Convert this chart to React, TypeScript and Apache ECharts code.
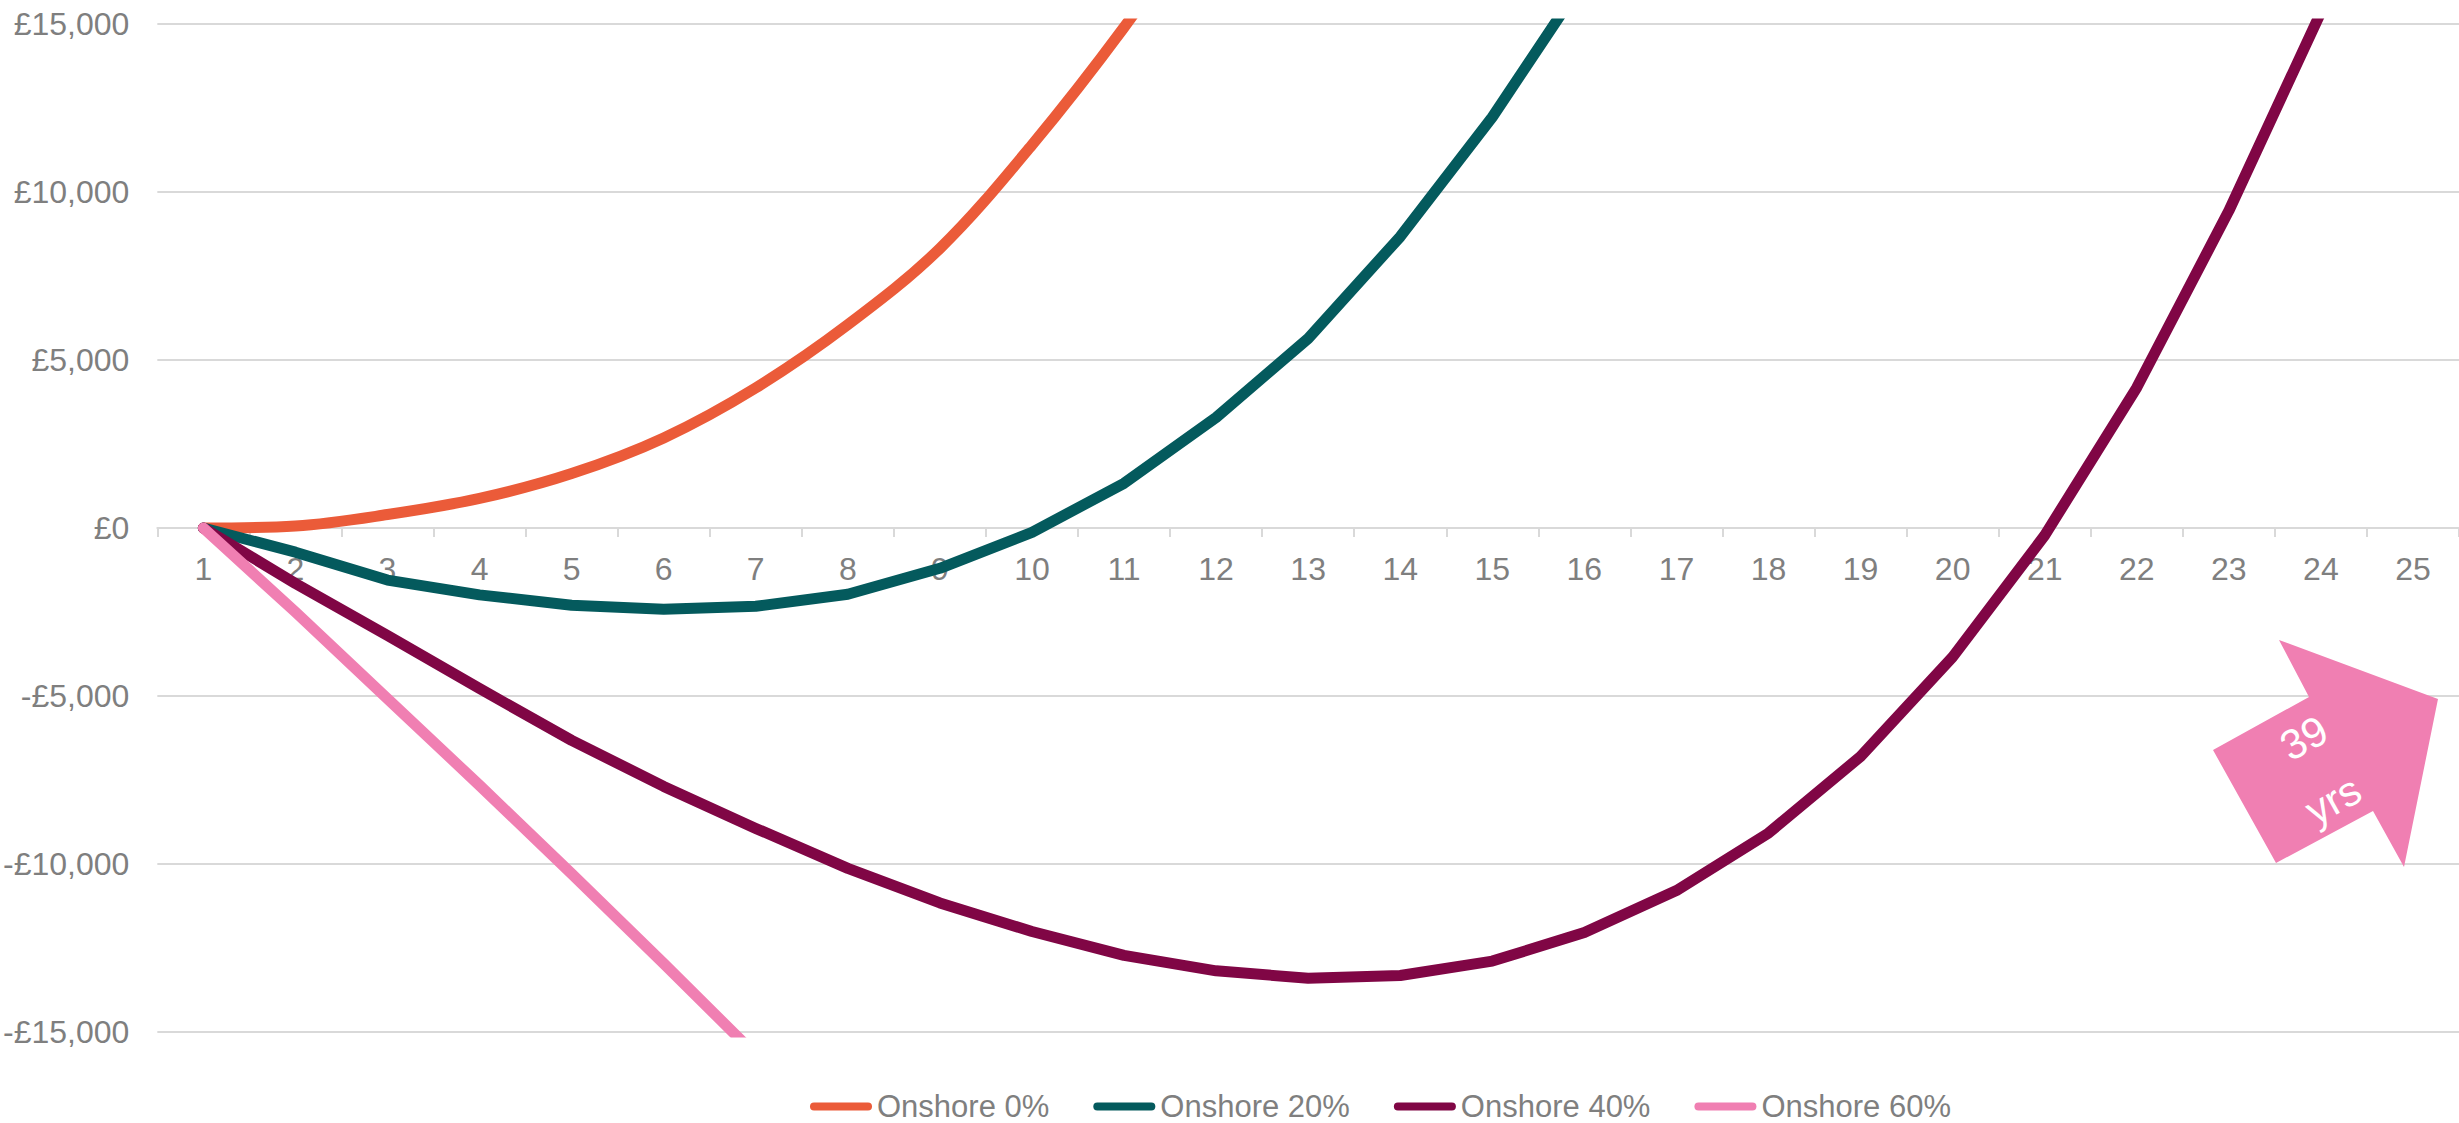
import React, { useEffect, useRef } from "react";
import * as echarts from "echarts";

const categories = ["1","2","3","4","5","6","7","8","9","10","11","12","13","14","15","16","17","18","19","20","21","22","23","24","25"];

const onshore0 = [0, 60, 400, 880, 1620, 2680, 4170, 6050, 8320, 11400, 14900, 18800, null, null, null, null, null, null, null, null, null, null, null, null, null];
const onshore20 = [0, -720, -1550, -1990, -2300, -2420, -2330, -1970, -1200, -130, 1330, 3290, 5640, 8670, 12230, 16330, null, null, null, null, null, null, null, null, null];
const onshore40 = [0, -1650, -3200, -4780, -6320, -7690, -8940, -10130, -11160, -12010, -12720, -13180, -13400, -13320, -12890, -12040, -10790, -9080, -6800, -3840, -220, 4180, 9440, 15350, 21800];
const onshore60 = [0, -2500, -5080, -7660, -10290, -12960, -15680, null, null, null, null, null, null, null, null, null, null, null, null, null, null, null, null, null, null];

const seriesNames = ["Onshore 0%", "Onshore 20%", "Onshore 40%", "Onshore 60%"];
const seriesColors = ["#EB5B39", "#045A5D", "#800645", "#F07FB2"];
const yTicks = { min: -15000, max: 15000, interval: 5000 };
const arrowLabel = ["39", "yrs"];

const FONT = "'Liberation Sans', Arial, sans-serif";
const GREY = "#7F7F7F";

function fmtMoney(v: number): string {
  if (v === 0) return "£0";
  const s = Math.abs(v).toString().replace(/\B(?=(\d{3})+(?!\d))/g, ",");
  return (v < 0 ? "-£" : "£") + s;
}

const GRID_TOP = 24;
const GRID_HEIGHT = 1008;

export default function App() {
  const ref = useRef<HTMLDivElement>(null);
  useEffect(() => {
    if (!ref.current) return;
    const chart = echarts.init(ref.current, null, { renderer: "svg" });
    const dataSets = [onshore0, onshore20, onshore40, onshore60];
    const rot = 0.506;
    // offset of the category axis so that it sits on the value 0
    const zeroFrac = (yTicks.max - 0) / (yTicks.max - yTicks.min);
    const axisOffset = -(GRID_HEIGHT - GRID_HEIGHT * zeroFrac);
    chart.setOption({
      animation: false,
      backgroundColor: "#FFFFFF",
      textStyle: { fontFamily: FONT },
      grid: { left: 155, top: GRID_TOP, width: 2325, height: GRID_HEIGHT, containLabel: false },
      legend: {
        left: 805,
        top: 1086,
        itemWidth: 62,
        itemHeight: 8,
        itemGap: 44,
        icon: "path://M4,0H58A4,4,0,0,1,58,8H4A4,4,0,0,1,4,0Z",
        textStyle: { color: GREY, fontSize: 31, fontFamily: FONT },
        data: seriesNames,
      },
      xAxis: {
        type: "category",
        data: categories,
        boundaryGap: true,
        position: "bottom",
        offset: axisOffset,
        axisLine: { show: true, onZero: false, lineStyle: { color: "#D9D9D9", width: 2 } },
        axisTick: { show: true, length: 9, lineStyle: { color: "#D9D9D9", width: 2 } },
        axisLabel: { color: GREY, fontSize: 32, fontFamily: FONT, margin: 25, interval: 0 },
        splitLine: { show: false },
      },
      yAxis: {
        type: "value",
        min: yTicks.min,
        max: yTicks.max,
        interval: yTicks.interval,
        axisLine: { show: false },
        axisTick: { show: false },
        axisLabel: { color: GREY, fontSize: 32, fontFamily: FONT, margin: 28, formatter: (v: number) => fmtMoney(v) },
        splitLine: { show: true, lineStyle: { color: "#D9D9D9", width: 2 } },
      },
      series: dataSets.map((d, i) => ({
        name: seriesNames[i],
        type: "line",
        data: d,
        symbol: "none",
        smooth: i === 0 ? 0.35 : false,
        clip: true,
        connectNulls: false,
        color: seriesColors[i],
        lineStyle: { color: seriesColors[i], width: 11, cap: "round", join: "round" },
        z: 2 + i,
      })),
      graphic: [
        {
          type: "polygon",
          z: 100,
          shape: {
            points: [
              [2213, 750],
              [2309, 697],
              [2279, 640],
              [2438, 699],
              [2404, 867],
              [2373, 811],
              [2276, 863],
            ],
          },
          style: { fill: "#F07FB2" },
        },
        {
          type: "text",
          z: 101,
          x: 2304,
          y: 738,
          rotation: rot,
          style: {
            text: arrowLabel[0],
            fill: "#FFFFFF",
            font: `42px ${FONT}`,
            align: "center",
            verticalAlign: "middle",
          },
        },
        {
          type: "text",
          z: 101,
          x: 2333,
          y: 800,
          rotation: rot,
          style: {
            text: arrowLabel[1],
            fill: "#FFFFFF",
            font: `42px ${FONT}`,
            align: "center",
            verticalAlign: "middle",
          },
        },
      ],
    });
    return () => chart.dispose();
  }, []);
  return (
    <div
      ref={ref}
      style={{ position: "absolute", left: 0, top: 0, width: 2459, height: 1123, overflow: "hidden" }}
    />
  );
}
